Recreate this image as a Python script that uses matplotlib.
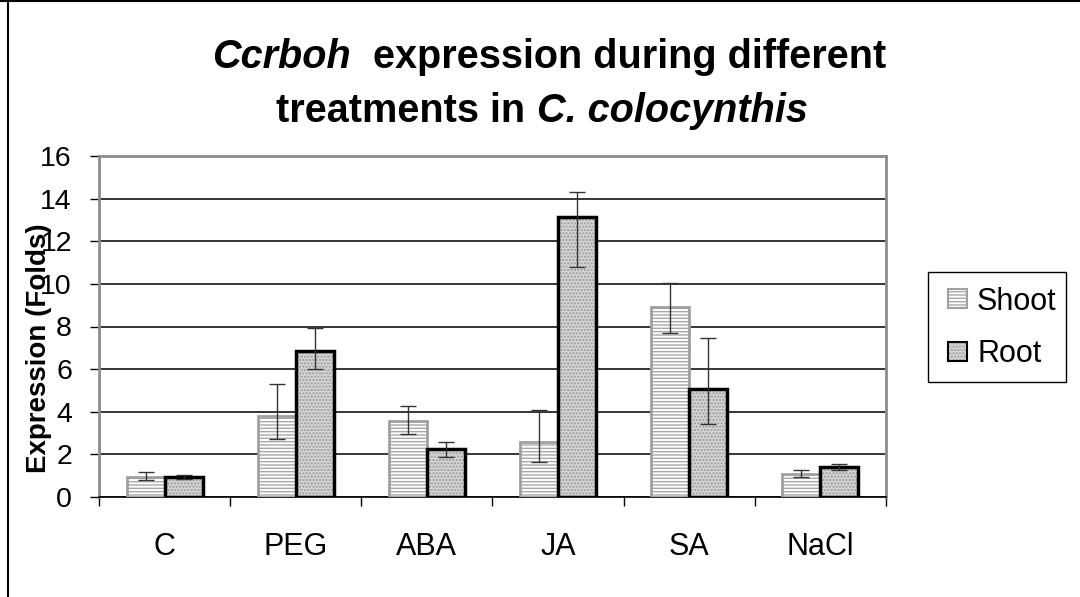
import matplotlib
matplotlib.use("Agg")
import matplotlib.pyplot as plt
from matplotlib.patches import Patch, Rectangle
from matplotlib.lines import Line2D
import numpy as np

plt.rcParams['font.family'] = ['Liberation Sans', 'DejaVu Sans']

categories = ["C", "PEG", "ABA", "JA", "SA", "NaCl"]
series_names = ["Shoot", "Root"]
shoot = [0.95, 3.8, 3.55, 2.6, 8.9, 1.08]
shoot_err_up = [0.2, 1.5, 0.7, 1.5, 1.15, 0.2]
shoot_err_down = [0.15, 1.1, 0.6, 0.95, 1.2, 0.14]
root = [0.93, 6.86, 2.23, 13.15, 5.09, 1.42]
root_err_up = [0.1, 1.05, 0.35, 1.16, 2.35, 0.11]
root_err_down = [0.08, 0.85, 0.34, 2.37, 1.67, 0.14]
yticks = [0, 2, 4, 6, 8, 10, 12, 14, 16]

W, H = 1080, 597
fig = plt.figure(figsize=(W/100, H/100), dpi=100)
ax = fig.add_axes([99/W, 1-497/H, (886-99)/W, (497-156)/H])

x = np.arange(len(categories))
bw = 0.29
xs = x - bw/2
xr = x + bw/2

shoot_fill = dict(facecolor='white', edgecolor='#a8a8a8', hatch='-----')
root_fill = dict(facecolor='#d4d4d4', edgecolor='#9a9a9a', hatch='.....')

ax.bar(xs, shoot, width=bw, linewidth=0, zorder=3, **shoot_fill)
ax.bar(xs, shoot, width=bw, fill=False, edgecolor='#a0a0a0', linewidth=2, zorder=4)
ax.bar(xr, root, width=bw, linewidth=0, zorder=3, **root_fill)
ax.bar(xr, root, width=bw, fill=False, edgecolor='black', linewidth=2.5, zorder=4)

ax.errorbar(xs, shoot, yerr=[shoot_err_down, shoot_err_up], fmt='none', ecolor='#333333',
            elinewidth=1, capsize=6, capthick=1, zorder=5)
ax.errorbar(xr, root, yerr=[root_err_down, root_err_up], fmt='none', ecolor='#333333',
            elinewidth=1, capsize=6, capthick=1, zorder=5)

ax.set_xlim(-0.5, len(categories) - 0.5)
ax.set_ylim(0, 16)
ax.set_yticks(yticks)
ax.set_yticklabels([str(v) for v in yticks], fontsize=20.5)
ax.set_xticks(x)
ax.set_xticklabels(categories, fontsize=22)
ax.tick_params(axis='x', length=0, pad=25)
ax.set_xticks(np.arange(-0.5, len(categories)), minor=True)
ax.tick_params(axis='x', which='minor', length=6.5, width=1, direction='out', color='black')
ax.tick_params(axis='y', length=6.5, width=1, direction='out', pad=13, color='black')

ax.grid(axis='y', color='black', linewidth=1.1, zorder=1)
ax.set_axisbelow(True)
for s in ['top', 'right', 'left']:
    ax.spines[s].set_color('#8c8c8c')
    ax.spines[s].set_linewidth(2)
ax.spines['bottom'].set_color('black')
ax.spines['bottom'].set_linewidth(1.2)

ax.set_ylabel("Expression (Folds)", fontsize=20, fontweight='bold')
ax.yaxis.set_label_coords(-(99-52)/787, 1-(348-156)/341)

# Title with mixed italic segments
def title_line(segments, y_base, size, xc):
    fig.canvas.draw()
    r = fig.canvas.get_renderer()
    texts = []
    total = 0
    for s, style in segments:
        t = fig.text(0, 1 - y_base/H, s, fontsize=size, fontweight='bold', fontstyle=style,
                     va='baseline', ha='left')
        bb = t.get_window_extent(renderer=r)
        texts.append((t, bb.width))
        total += bb.width
    cur = xc - total/2
    for t, w in texts:
        t.set_x(cur / W)
        cur += w

title_line([("Ccrboh", 'italic'), ("  expression during different", 'normal')], 68, 28.5, 549)
title_line([("treatments in ", 'normal'), ("C. colocynthis", 'italic')], 122, 28.5, 542)

# Legend
fig.add_artist(Rectangle((928/W, 1-382/H), (1066-928)/W, (382-272)/H, transform=fig.transFigure,
                         facecolor='white', edgecolor='black', linewidth=1))
legend_styles = [(shoot_fill, '#a0a0a0', 298), (root_fill, 'black', 351)]
for name, (fill, ec, yc) in zip(series_names, legend_styles):
    fig.add_artist(Rectangle((948/W, 1-(yc+9.5)/H), 19/W, 19/H, transform=fig.transFigure,
                             linewidth=0, **fill))
    fig.add_artist(Rectangle((948/W, 1-(yc+9.5)/H), 19/W, 19/H, transform=fig.transFigure,
                             fill=False, edgecolor=ec, linewidth=1.5))
    fig.text(977/W, 1-yc/H, name, fontsize=22, va='center_baseline', ha='left')

# figure border (top and left)
fig.add_artist(Line2D([0, 1], [1 - 0.5/H, 1 - 0.5/H], transform=fig.transFigure, color='black', lw=1.5))
fig.add_artist(Line2D([7.5/W, 7.5/W], [0, 1], transform=fig.transFigure, color='black', lw=1.5))

fig.savefig("out.png", dpi=100)
